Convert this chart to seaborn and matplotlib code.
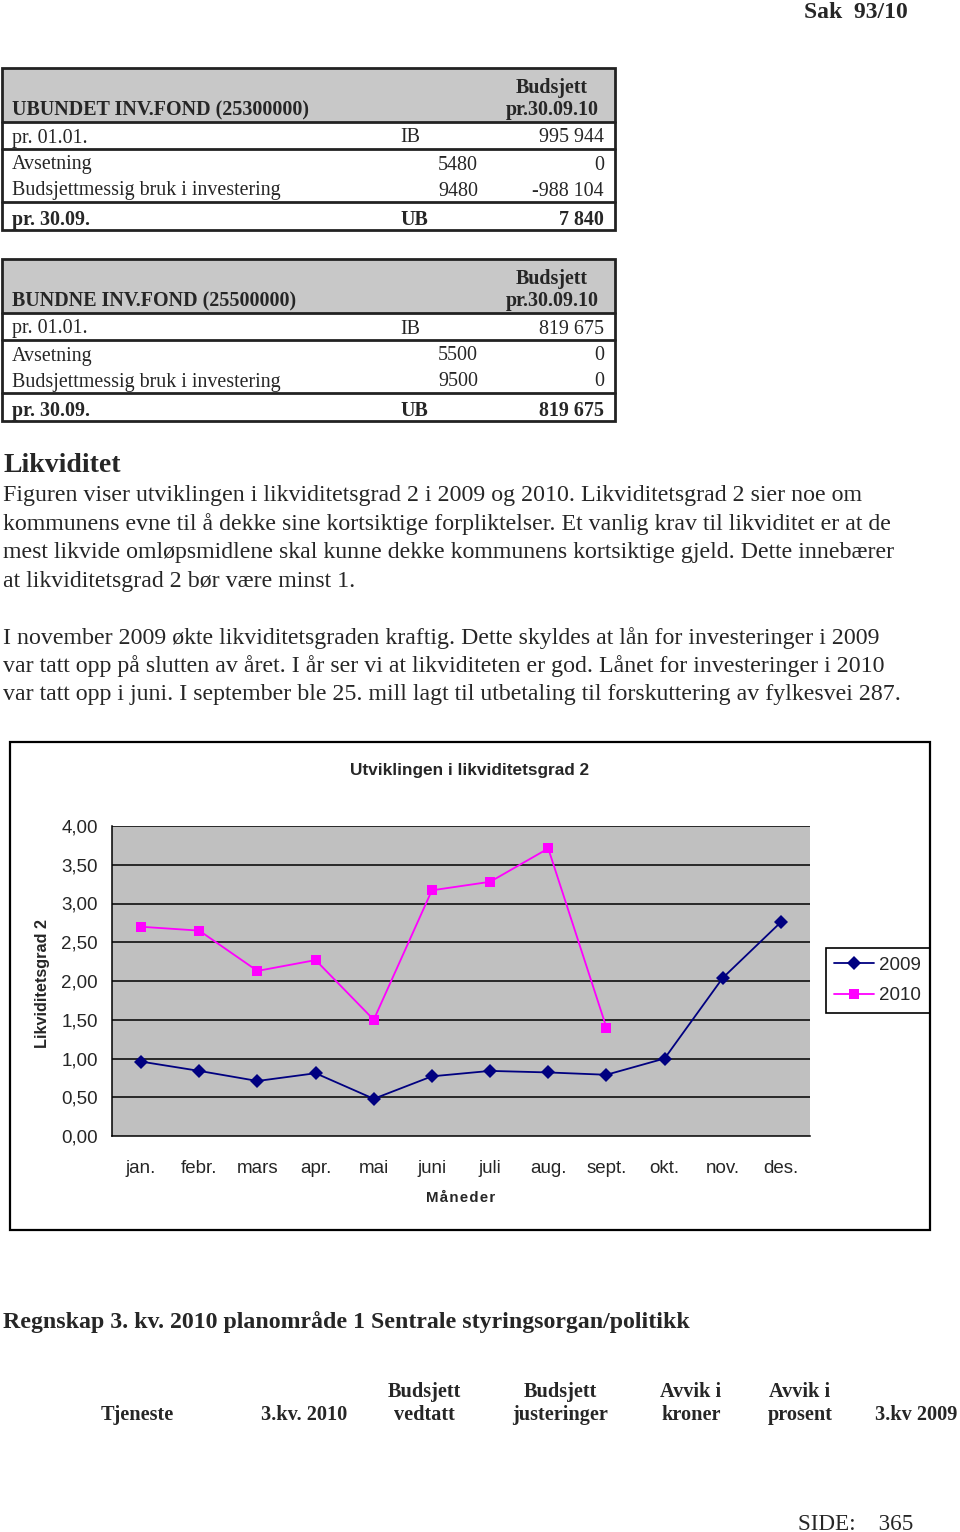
import matplotlib
matplotlib.use("Agg")
import matplotlib.pyplot as plt
import matplotlib.patches as mpatches
from matplotlib.lines import Line2D
import seaborn as sns
import pandas as pd
import numpy as np

# ---------------- data ----------------
months = ["jan.", "febr.", "mars", "apr.", "mai", "juni", "juli", "aug.", "sept.", "okt.", "nov.", "des."]
liq_2009 = [0.96, 0.84, 0.71, 0.81, 0.48, 0.77, 0.84, 0.82, 0.79, 1.00, 2.04, 2.76]
liq_2010 = [2.70, 2.65, 2.13, 2.27, 1.50, 3.17, 3.28, 3.71, 1.40]
y_ticks = [0.0, 0.5, 1.0, 1.5, 2.0, 2.5, 3.0, 3.5, 4.0]

row_labels = ["pr. 01.01.", "Avsetning", "Budsjettmessig bruk i investering", "pr. 30.09."]
fund1_title = "UBUNDET INV.FOND (25300000)"
fund1_codes = ["IB", "5480", "9480", "UB"]
fund1_values = ["995 944", "0", "-988 104", "7 840"]
fund2_title = "BUNDNE INV.FOND (25500000)"
fund2_codes = ["IB", "5500", "9500", "UB"]
fund2_values = ["819 675", "0", "0", "819 675"]

para1 = ["Figuren viser utviklingen i likviditetsgrad 2 i 2009 og 2010. Likviditetsgrad 2 sier noe om",
         "kommunens evne til å dekke sine kortsiktige forpliktelser. Et vanlig krav til likviditet er at de",
         "mest likvide omløpsmidlene skal kunne dekke kommunens kortsiktige gjeld. Dette innebærer",
         "at likviditetsgrad 2 bør være minst 1."]
para2 = ["I november 2009 økte likviditetsgraden kraftig. Dette skyldes at lån for investeringer i 2009",
         "var tatt opp på slutten av året. I år ser vi at likviditeten er god. Lånet for investeringer i 2010",
         "var tatt opp i juni. I september ble 25. mill lagt til utbetaling til forskuttering av fylkesvei 287."]
col_headers = ["Tjeneste", "3.kv. 2010", "Budsjett\nvedtatt", "Budsjett\njusteringer",
               "Avvik i\nkroner", "Avvik i\nprosent", "3.kv 2009"]

# ---------------- figure ----------------
sns.set_theme(style="white")
W, H = 960, 1532
fig = plt.figure(figsize=(W / 100, H / 100), dpi=100)
fig.patch.set_facecolor("white")

SERIF = "Liberation Serif"
SANS = "Liberation Sans"
TS = 14.4  # table font size


def fy(y):
    return 1 - y / H


def T(x, y, s, ha="left", size=TS, weight="normal", family=SERIF, **kw):
    fig.text(x / W, fy(y + 2), s, ha=ha, va="center", fontsize=size, fontweight=weight,
             family=family, **kw)


def hline(x0, x1, y, lw=2.0, color="#222222"):
    fig.add_artist(Line2D([x0 / W, x1 / W], [fy(y), fy(y)], lw=lw, color=color,
                          transform=fig.transFigure))


def rect(x0, y0, x1, y1, fc="none", ec="#222222", lw=2.0, z=1):
    fig.add_artist(mpatches.Rectangle((x0 / W, fy(y1)), (x1 - x0) / W, (y1 - y0) / H,
                                      facecolor=fc, edgecolor=ec, lw=lw,
                                      transform=fig.transFigure, zorder=z))


# header
T(908, 10, "Sak  93/10", ha="right", size=17, weight="bold")


def fund_table(top, title, codes, values):
    rect(2, top, 615, top + 54, fc="#c8c8c8", ec="none", lw=0)
    rect(2, top, 615, top + 162)
    hline(2, 615, top + 54)
    hline(2, 615, top + 81)
    hline(2, 615, top + 134)
    T(12, top + 40, title, weight="bold")
    T(552, top + 18, "Budsjett", ha="center", weight="bold")
    T(552, top + 40, "pr.30.09.10", ha="center", weight="bold")
    ys = [top + 68, top + 95, top + 121, top + 150]
    for i, (lab, code, val) in enumerate(zip(row_labels, codes, values)):
        w = "bold" if i == 3 else "normal"
        T(12, ys[i], lab, weight=w)
        if code in ("IB", "UB"):
            T(400, ys[i], code, weight=w)
        else:
            T(478, ys[i], code, ha="right", weight=w)
        T(604, ys[i], val, ha="right", weight=w)


fund_table(68, fund1_title, fund1_codes, fund1_values)
fund_table(259, fund2_title, fund2_codes, fund2_values)

# Text section
T(3, 464, "Likviditet", size=20, weight="bold")
for i, line in enumerate(para1):
    T(3, 494 + i * 28.4, line, size=17.2)
for i, line in enumerate(para2):
    T(3, 636 + i * 28.2, line, size=17.2)

# ---------------- chart ----------------
rect(10, 742, 930, 1230, ec="black", lw=1.6)
fig.text(470 / W, fy(770), "Utviklingen i likviditetsgrad 2", ha="center", va="center",
         fontsize=12.4, fontweight="bold", family=SANS)

ax = fig.add_axes([112 / W, fy(1136), (810 - 112) / W, (1136 - 826) / H])
ax.set_facecolor("#c0c0c0")

df = pd.concat([
    pd.DataFrame({"Måned": months, "År": "2009", "Verdi": liq_2009}),
    pd.DataFrame({"Måned": months[:len(liq_2010)], "År": "2010", "Verdi": liq_2010}),
], ignore_index=True)
df["pos"] = df["Måned"].map({m: i for i, m in enumerate(months)})

sns.lineplot(data=df, x="pos", y="Verdi", hue="År", style="År",
             palette={"2009": "#000080", "2010": "#ff00ff"},
             markers={"2009": "D", "2010": "s"}, dashes=False,
             markersize=7.5, markeredgewidth=0, linewidth=1.3, ax=ax, zorder=3)

ax.set_ylim(0, 4)
ax.set_xlim(-0.5, len(months) - 0.5)
ax.set_yticks(y_ticks)
ax.set_yticklabels([f"{v:.2f}".replace(".", ",") for v in y_ticks], family=SANS, fontsize=13.5)
for v in y_ticks[1:]:
    ax.axhline(v, color="black", lw=1.1, zorder=1)
ax.set_xticks(range(len(months)))
ax.set_xticklabels(months, family=SANS, fontsize=13.5)
ax.set_xticks(np.arange(-0.5, len(months)), minor=True)
ax.tick_params(axis="x", which="major", length=0, pad=17)
ax.tick_params(axis="x", which="minor", length=6, width=1, color="black", direction="out")
ax.tick_params(axis="y", which="major", length=6, width=1, color="black", direction="out", pad=4)
for s in ["top", "right"]:
    ax.spines[s].set_visible(False)
for s in ["left", "bottom"]:
    ax.spines[s].set_color("black")
    ax.spines[s].set_linewidth(1.1)
ax.set_xlabel("")
ax.set_ylabel("")
ax.grid(False)

fig.text(461 / W, fy(1198), "M å n e d e r".replace(" ", "\u200a"), ha="center", va="center",
         fontsize=10.8, fontweight="bold", family=SANS)
fig.text(42 / W, fy(983), "Likviditetsgrad 2", ha="center", va="center", rotation=90,
         fontsize=11.7, fontweight="bold", family=SANS)

handles, labels = ax.get_legend_handles_labels()
leg = ax.legend(handles, labels, loc="upper left",
                bbox_to_anchor=(826 / W, fy(948)), bbox_transform=fig.transFigure,
                frameon=True, fancybox=False, edgecolor="black", framealpha=1,
                prop={"family": SANS, "size": 13.5}, handlelength=2.1,
                borderpad=0.45, labelspacing=0.72, handletextpad=0.3, borderaxespad=0)
leg.get_frame().set_linewidth(1.2)

# ---------------- bottom section ----------------
T(3, 1320, "Regnskap 3. kv. 2010 planområde 1 Sentrale styringsorgan/politikk", size=17.2, weight="bold")
col_x = [137, 304, 424, 560, 691, 800, 916]
for x, h in zip(col_x, col_headers):
    if "\n" in h:
        a, b = h.split("\n")
        T(x, 1390, a, ha="center", size=14.6, weight="bold")
        T(x, 1413, b, ha="center", size=14.6, weight="bold")
    else:
        T(x, 1413, h, ha="center", size=14.6, weight="bold")

T(913, 1522, "SIDE:    365", ha="right", size=16.7)

fig.savefig("out.png", dpi=100)
